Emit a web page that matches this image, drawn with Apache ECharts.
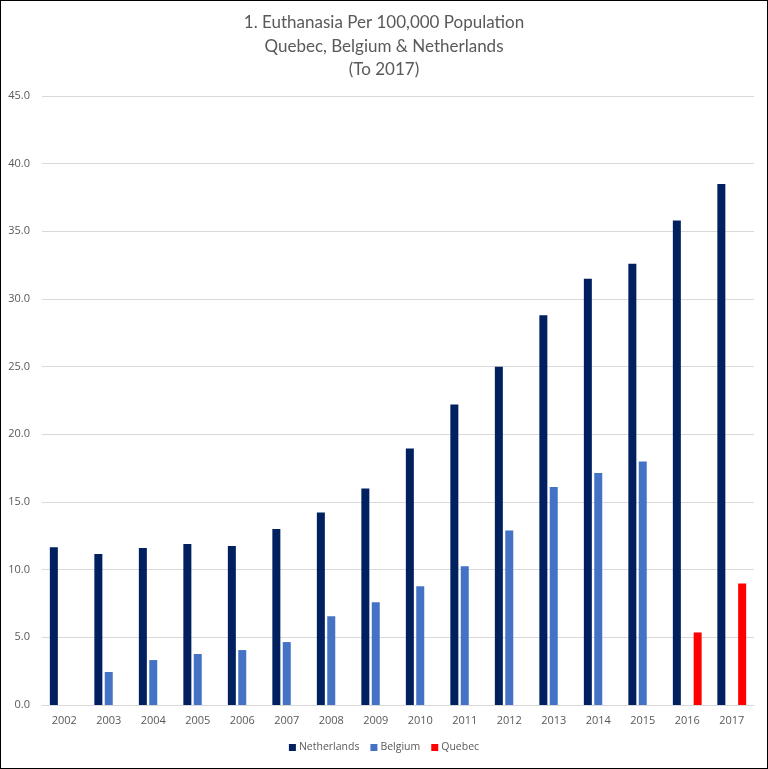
<!DOCTYPE html>
<html>
<head>
<meta charset="utf-8">
<script src="https://cdn.jsdelivr.net/npm/echarts@6/dist/echarts.min.js"></script>
<style>
html,body{margin:0;padding:0;background:#fff;}
#c{width:768px;height:769px;box-sizing:border-box;border:1px solid #000;}
</style>
</head>
<body>
<div id="c"></div>
<script>
const years = ['2002','2003','2004','2005','2006','2007','2008','2009','2010','2011','2012','2013','2014','2015','2016','2017'];
const netherlands = [11.65,11.15,11.6,11.9,11.75,13.0,14.23,16.0,18.95,22.2,25.0,28.8,31.5,32.6,35.8,38.5];
const belgium = [null,2.44,3.32,3.77,4.06,4.65,6.56,7.6,8.78,10.25,12.9,16.1,17.14,18.0,null,null];
const quebec = [null,null,null,null,null,null,null,null,null,null,null,null,null,null,5.36,8.98];
const yTicks = {min:0,max:45,interval:5};

const chart = echarts.init(document.getElementById('c'), null, {renderer:'canvas'});
const font = 'Open Sans';
chart.setOption({
  animation:false,
  title:{
    text:'1. Euthanasia Per 100,000 Population\nQuebec, Belgium & Netherlands\n(To 2017)',
    left:'center', top:5,
    textStyle:{fontFamily:'Lato', fontSize:17, fontWeight:'normal', color:'#595959', lineHeight:23.5}
  },
  legend:{
    bottom:10, left:'center', itemWidth:7, itemHeight:7, itemGap:11,
    icon:'rect',
    textStyle:{fontFamily:font, fontSize:10.5, color:'#595959', padding:[0,0,0,-2]},
    data:['Netherlands','Belgium','Quebec']
  },
  grid:{left:41, right:13, top:95, bottom:63},
  xAxis:{
    type:'category', data:years,
    axisLine:{lineStyle:{color:'#d9d9d9'}},
    axisTick:{show:false},
    axisLabel:{fontFamily:font, fontSize:11, color:'#595959', margin:10}
  },
  yAxis:{
    type:'value', min:yTicks.min, max:yTicks.max, interval:yTicks.interval,
    axisLine:{show:false}, axisTick:{show:false},
    splitLine:{lineStyle:{color:'#d9d9d9'}},
    axisLabel:{fontFamily:font, fontSize:11, color:'#595959', margin:12, formatter:v=>v.toFixed(1)}
  },
  series:[
    {name:'Netherlands', type:'bar', data:netherlands, barWidth:8, barGap:'30%', itemStyle:{color:'#002060'}},
    {name:'Belgium', type:'bar', data:belgium, barWidth:8, barGap:'30%', itemStyle:{color:'#4472C4'}},
    {name:'Quebec', type:'bar', data:quebec, barWidth:8, barGap:'30%', itemStyle:{color:'#FF0000'}}
  ]
});
</script>
</body>
</html>
